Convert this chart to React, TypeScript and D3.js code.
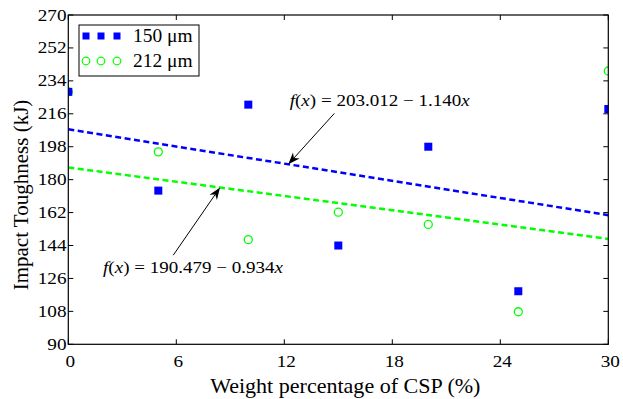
import React from "react";
import * as d3 from "d3";

const xValues = [0, 5, 10, 15, 20, 25, 30];
const series150 = [228, 174, 221, 144, 198, 119, 218.6];
const series212 = [228, 195.2, 147.2, 162.2, 155.5, 107.8, 239.4];
const fitX = [0, 30];
const fit150 = [207.5, 160.6];
const fit212 = [186.7, 147.6];
const xTicks = [0, 6, 12, 18, 24, 30];
const yTicks = [90, 108, 126, 144, 162, 180, 198, 216, 234, 252, 270];
const legendLabels = ["150 μm", "212 μm"];
const eqLabels = ["f(x) = 203.012 \u2212 1.140x", "f(x) = 190.479 \u2212 0.934x"];
// annotation anchors in data units: [tailX, tailY, tipX, (unused), textX, textY]
const ann150 = [14.78, 216.2, 12.22, 0, 12.3, 220.3];
const ann212 = [5.83, 138.7, 8.43, 0, 1.93, 128.8];

const W = 623, H = 399;
const L = 68.3, R = 608.3, T = 15, B = 344.3;
const FONT = "Liberation Serif, Tinos, Times New Roman, serif";
const BLUE = "#0000ff", GREEN = "#00ff00";

export default function App() {
  const x = d3.scaleLinear().domain([0, 30]).range([L, R]);
  const y = d3.scaleLinear().domain([90, 270]).range([B, T]);
  const line = d3.line<number>().x((_, i) => x(fitX[i])).y((d) => y(d));
  const fitAt = (f: number[], xv: number) => f[0] + ((f[1] - f[0]) * xv) / 30;

  const eq = (lbl: string, tx: number, ty: number) => {
    const rest = lbl.slice(4);
    return (
      <text transform={`translate(${x(tx)},${y(ty)}) scale(1.12,1)`} fontSize={17} fill="#000">
        <tspan fontStyle="italic">f</tspan>
        <tspan>(</tspan>
        <tspan fontStyle="italic">x</tspan>
        <tspan>){" "}</tspan>
        <tspan>{rest.replace(/x$/, "")}</tspan>
        <tspan fontStyle="italic">x</tspan>
      </text>
    );
  };

  const arrow = (a: number[], f: number[]) => {
    const x1 = x(a[0]), y1 = y(a[1]);
    const x2 = x(a[2]), y2 = y(fitAt(f, a[2]));
    const ang = Math.atan2(y2 - y1, x2 - x1);
    const len = 12, w = 4.5;
    const bx = x2 - len * Math.cos(ang), by = y2 - len * Math.sin(ang);
    const px = -Math.sin(ang), py = Math.cos(ang);
    const notchX = x2 - len * 0.7 * Math.cos(ang), notchY = y2 - len * 0.7 * Math.sin(ang);
    return (
      <g>
        <line x1={x1} y1={y1} x2={notchX} y2={notchY} stroke="#000" strokeWidth={1} />
        <path
          d={`M${x2},${y2} L${bx + px * w},${by + py * w} L${notchX},${notchY} L${bx - px * w},${by - py * w} Z`}
          fill="#000"
        />
      </g>
    );
  };

  return (
    <svg width={W} height={H} style={{ position: "absolute", left: 0, top: 0, background: "#fff", fontFamily: FONT }}>
      <defs>
        <clipPath id="plotClip">
          <rect x={L} y={T} width={R - L} height={B - T} />
        </clipPath>
      </defs>
      <rect width={W} height={H} fill="#fff" />
      <g clipPath="url(#plotClip)">
        <path d={line(fit150) || ""} fill="none" stroke={BLUE} strokeWidth={2.5} strokeDasharray="6,3.5" />
        <path d={line(fit212) || ""} fill="none" stroke={GREEN} strokeWidth={2.5} strokeDasharray="6,3.5" />
        {series212.map((v, i) => (
          <circle key={"c" + i} cx={x(xValues[i])} cy={y(v)} r={4} fill="none" stroke={GREEN} strokeWidth={1.3} />
        ))}
        {series150.map((v, i) => (
          <rect key={"s" + i} x={x(xValues[i]) - 4} y={y(v) - 4} width={8} height={8} fill={BLUE} />
        ))}
      </g>
      {/* axes box */}
      <rect x={L} y={T} width={R - L} height={B - T} fill="none" stroke="#000" strokeWidth={1.2} />
      {xTicks.map((t) => (
        <g key={"xt" + t}>
          <line x1={x(t)} x2={x(t)} y1={B} y2={B - 5} stroke="#000" />
          <line x1={x(t)} x2={x(t)} y1={T} y2={T + 5} stroke="#000" />
          <text transform={`translate(${x(t) + 2},367) scale(1.2,1)`} textAnchor="middle" fontSize={16} fill="#000">
            {t}
          </text>
        </g>
      ))}
      {yTicks.map((t) => (
        <g key={"yt" + t}>
          <line x1={L} x2={L + 5} y1={y(t)} y2={y(t)} stroke="#000" />
          <line x1={R} x2={R - 5} y1={y(t)} y2={y(t)} stroke="#000" />
          <text transform={`translate(66.5,${y(t) + 5.5}) scale(1.2,1)`} textAnchor="end" fontSize={16} fill="#000">
            {t}
          </text>
        </g>
      ))}
      <text transform={`translate(${(L + R) / 2 + 7},393) scale(1.05,1)`} textAnchor="middle" fontSize={21} fill="#000">
        Weight percentage of CSP (%)
      </text>
      <text
        transform={`translate(27.5,195) rotate(-90)`}
        textAnchor="middle"
        fontSize={21}
        fill="#000"
      >
        Impact Toughness (kJ)
      </text>
      {/* legend */}
      <rect x={79} y={25} width={120} height={51} fill="#fff" stroke="#000" strokeWidth={1} />
      {[86, 101, 117].map((mx) => (
        <rect key={"lm" + mx} x={mx - 3.5} y={36 - 3.5} width={7} height={7} fill={BLUE} />
      ))}
      {[86, 101, 117].map((mx) => (
        <circle key={"lc" + mx} cx={mx} cy={61} r={3.8} fill="none" stroke={GREEN} strokeWidth={1.2} />
      ))}
      <text transform="translate(133,42) scale(1.08,1)" fontSize={18} fill="#000">{legendLabels[0]}</text>
      <text transform="translate(133,67) scale(1.08,1)" fontSize={18} fill="#000">{legendLabels[1]}</text>
      {/* annotations */}
      {arrow(ann150, fit150)}
      {arrow(ann212, fit212)}
      {eq(eqLabels[0], ann150[4], ann150[5])}
      {eq(eqLabels[1], ann212[4], ann212[5])}
    </svg>
  );
}
